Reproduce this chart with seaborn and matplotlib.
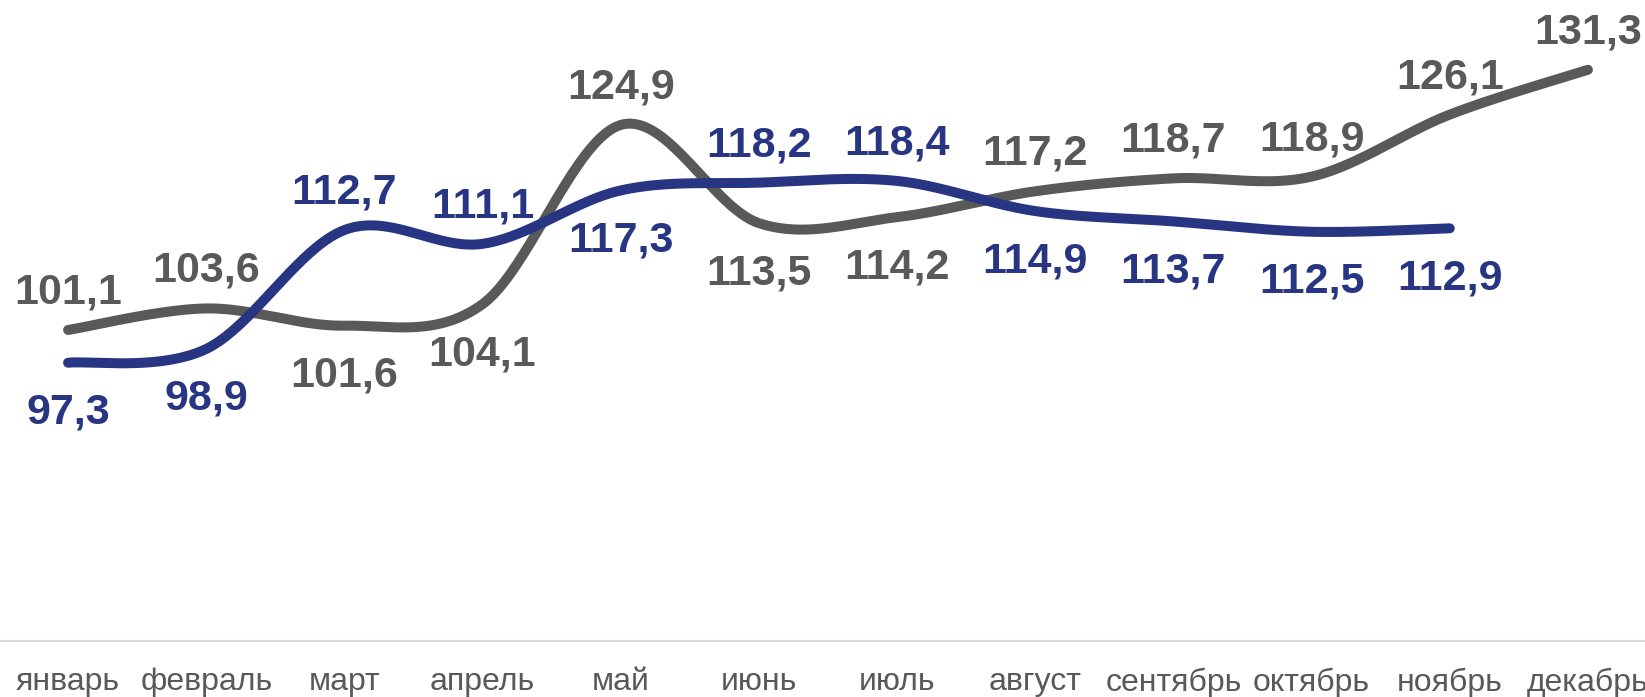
import numpy as np
import pandas as pd
import matplotlib
matplotlib.use("Agg")
import matplotlib.pyplot as plt
import seaborn as sns

months = ["январь", "февраль", "март", "апрель", "май", "июнь", "июль",
          "август", "сентябрь", "октябрь", "ноябрь", "декабрь"]
grey_values = [101.1, 103.6, 101.6, 104.1, 124.9, 113.5, 114.2, 117.2, 118.7, 118.9, 126.1, 131.3]
blue_values = [97.3, 98.9, 112.7, 111.1, 117.3, 118.2, 118.4, 114.9, 113.7, 112.5, 112.9]
grey_label_pos = ["above", "above", "below", "below", "above", "below", "below",
                  "above", "above", "above", "above", "above"]
blue_label_pos = ["below", "below", "above", "above", "below", "above", "above",
                  "below", "below", "below", "below"]

GREY = "#595959"
BLUE = "#283583"

sns.set_theme(style="white")
plt.rcParams["font.family"] = ["Liberation Sans", "DejaVu Sans"]


def smooth(xs, ys, n=40):
    """Excel-like smoothed line: Catmull-Rom cubic Bezier segments."""
    P = np.column_stack([xs, ys]).astype(float)
    out = []
    m = len(P)
    for i in range(m - 1):
        p0 = P[i - 1] if i > 0 else P[i]
        p1 = P[i]
        p2 = P[i + 1]
        p3 = P[i + 2] if i + 2 < m else P[i + 1]
        c1 = p1 + (p2 - p0) / 6.0
        c2 = p2 - (p3 - p1) / 6.0
        t = np.linspace(0, 1, n, endpoint=(i == m - 2))[:, None]
        seg = ((1 - t) ** 3) * p1 + 3 * ((1 - t) ** 2) * t * c1 + 3 * (1 - t) * t ** 2 * c2 + t ** 3 * p2
        out.append(seg)
    out = np.vstack(out)
    return out[:, 0], out[:, 1]


fig = plt.figure(figsize=(16.45, 6.97), dpi=100)
ax = fig.add_axes([-1 / 1645, 1 - 641 / 697, 1658 / 1645, 641 / 697])

for vals, color, z in [(grey_values, GREY, 2), (blue_values, BLUE, 3)]:
    xs = np.arange(len(vals))
    sx, sy = smooth(xs, vals)
    df = pd.DataFrame({"x": sx, "y": sy})
    sns.lineplot(data=df, x="x", y="y", sort=False, ax=ax, color=color,
                 linewidth=7.2, solid_capstyle="round", zorder=z, legend=False)

for vals, poss, color in [(grey_values, grey_label_pos, GREY), (blue_values, blue_label_pos, BLUE)]:
    for i, (v, p) in enumerate(zip(vals, poss)):
        off = 27 if p == "above" else -36
        ax.annotate(f"{v:.1f}".replace(".", ","), (i, v), xytext=(0, off),
                    textcoords="offset points", ha="center", va="center",
                    fontsize=31, fontweight="bold", color=color,
                    annotation_clip=False, zorder=5)

ax.set_xlim(-0.5, 11.5)
ax.set_ylim(65, 139.4)
ax.set_xticks(range(len(months)))
ax.set_xticklabels(months, fontsize=23, color=GREY)
ax.set_yticks([])
ax.set_xlabel("")
ax.set_ylabel("")
ax.tick_params(axis="x", length=0, pad=19)
for s in ["top", "left", "right"]:
    ax.spines[s].set_visible(False)
ax.spines["bottom"].set_color("#d9d9d9")
ax.spines["bottom"].set_linewidth(1.5)

fig.savefig("out.png", dpi=100)
